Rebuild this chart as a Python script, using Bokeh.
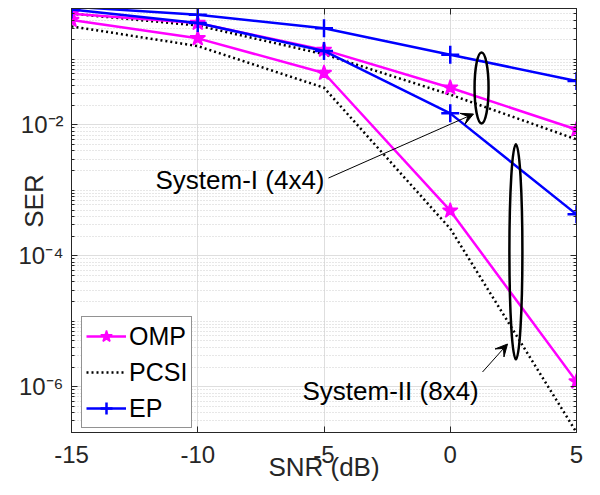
import numpy as np
from bokeh.plotting import figure
from bokeh.models import (Range1d, FixedTicker, LogAxis, LinearAxis, Label, Arrow,
                          VeeHead, Legend, LegendItem, CustomJSTickFormatter)
from bokeh.embed import file_html
from bokeh.resources import INLINE

# ---- data ----
snr = [-15, -10, -5, 0, 5]
omp_4x4 = [0.50, 0.36, 0.14, 0.037, 0.0085]
pcsi_4x4 = [0.50, 0.33, 0.12, 0.029, 0.0060]
ep_4x4 = [0.64, 0.48, 0.30, 0.118, 0.047]
omp_8x4 = [0.40, 0.21, 0.062, 4.9e-4, 1.2e-6]
pcsi_8x4 = [0.32, 0.16, 0.037, 2.6e-4, 2.0e-7]
ep_8x4 = [0.58, 0.36, 0.135, 0.015, 4.3e-4]

x_ticks = [-15, -10, -5, 0, 5]
x_tick_labels = ["-15", "-10", "-5", "0", "5"]
y_ticks = [1e-6, 1e-4, 1e-2]
y_tick_labels = ["10\u207b\u2076", "10\u207b\u2074", "10\u207b\u00b2"]

FONT = "Liberation Sans"
AX = "#262626"

y_lo, y_hi = 2e-7, 0.6
minor = [m * 10.0 ** k for k in range(-7, 0) for m in range(1, 10)]
minor = [v for v in minor if y_lo <= v <= y_hi and not any(abs(v - t) / t < 1e-9 for t in y_ticks)]

p = figure(frame_width=505, frame_height=424,
           x_range=Range1d(-15, 5), y_range=Range1d(y_lo, y_hi),
           y_axis_type="log", output_backend="svg", toolbar_location=None,
           min_border_left=71, min_border_right=16, min_border_top=8, min_border_bottom=58,
           background_fill_color="white", border_fill_color="white")
p.outline_line_color = AX
p.outline_line_width = 1

yt = FixedTicker(ticks=y_ticks, minor_ticks=minor)
xt = FixedTicker(ticks=x_ticks, minor_ticks=[])
p.xaxis.ticker = xt
p.yaxis.ticker = yt
p.yaxis.major_label_overrides = {t: s for t, s in zip(y_ticks, y_tick_labels)}
p.xaxis.major_label_overrides = {t: s for t, s in zip(x_ticks, x_tick_labels)}

def style_axis(ax):
    ax.axis_line_color = AX
    ax.major_tick_line_color = AX
    ax.minor_tick_line_color = AX
    ax.major_tick_in = 6
    ax.major_tick_out = 0
    ax.minor_tick_in = 3
    ax.minor_tick_out = 0

for ax in (p.xaxis[0], p.yaxis[0]):
    style_axis(ax)
    ax.major_label_text_font = FONT
    ax.major_label_text_font_size = "24px"
    ax.major_label_text_color = AX
    ax.axis_label_text_font = FONT
    ax.axis_label_text_font_size = "26px"
    ax.axis_label_text_font_style = "normal"
    ax.axis_label_text_color = AX
p.xaxis.major_label_standoff = 13
p.yaxis.major_label_standoff = 8

p.xaxis.axis_label = "SNR (dB)"
p.xaxis.axis_label_standoff = -14
# leading em/en spaces nudge the rotated label upward, as in the reference
p.yaxis.axis_label = "\u2003\u2002SER"
p.yaxis.axis_label_standoff = -34

# right and top box axes (ticks only, no labels)
blank = CustomJSTickFormatter(code="return '';")
ra = LogAxis(ticker=yt, formatter=blank)
ta = LinearAxis(ticker=xt, formatter=blank)
for ax in (ra, ta):
    style_axis(ax)
    ax.major_label_standoff = 0
p.add_layout(ra, "right")
p.add_layout(ta, "above")

# grids
p.xgrid.grid_line_color = "#dedede"
p.xgrid.grid_line_width = 1
p.ygrid.grid_line_color = "#dedede"
p.ygrid.grid_line_width = 1
p.ygrid.minor_grid_line_color = "#cfcfcf"
p.ygrid.minor_grid_line_dash = "1 2"
p.ygrid.minor_grid_line_width = 1

MAG = "#ff00ff"
BLUE = "#0000ff"

def series(y, color, dash, marker):
    ln = p.line(snr, y, line_color=color, line_width=2.5, line_dash=dash)
    sc = None
    if marker is not None:
        sc = p.scatter(snr, y, marker=marker, size=16 if marker == "star" else 18,
                       line_color=color, fill_color=color if marker == "star" else None,
                       line_width=2.5 if marker == "cross" else 1.5)
    return ln, sc

pcsi1 = series(pcsi_4x4, "black", "2 3", None)
pcsi2 = series(pcsi_8x4, "black", "2 3", None)
omp1 = series(omp_4x4, MAG, "solid", "star")
omp2 = series(omp_8x4, MAG, "solid", "star")
ep1 = series(ep_4x4, BLUE, "solid", "cross")
ep2 = series(ep_8x4, BLUE, "solid", "cross")

legend = Legend(items=[
    LegendItem(label="OMP", renderers=[omp1[0], omp1[1]]),
    LegendItem(label="PCSI", renderers=[pcsi1[0]]),
    LegendItem(label="EP", renderers=[ep1[0], ep1[1]]),
], location=(10, 4))
legend.label_text_font = FONT
legend.label_text_font_size = "25px"
legend.label_text_color = "black"
legend.glyph_width = 40
legend.glyph_height = 30
legend.label_standoff = 3
legend.padding = 4
legend.spacing = 6
legend.margin = 0
legend.border_line_color = AX
legend.border_line_width = 1
legend.background_fill_alpha = 1
p.add_layout(legend)

# ellipses marking the two systems (screen-sized)
p.ellipse(x=[1.24, 2.60], y=[0.0367, 1.15e-4], width=[14, 13], height=[71, 215],
          width_units="screen", height_units="screen",
          fill_color=None, line_color="black", line_width=2.5)

# annotations
p.add_layout(Label(x=84, y=252.5, x_units="screen", y_units="screen", text="System-I (4x4)",
                   text_font=FONT, text_font_size="26px", text_color="black",
                   text_baseline="middle", text_align="left"))
p.add_layout(Label(x=231, y=41.5, x_units="screen", y_units="screen", text="System-II (8x4)",
                   text_font=FONT, text_font_size="26px", text_color="black",
                   text_baseline="middle", text_align="left"))
p.add_layout(Arrow(x_start=257, y_start=254.5, x_end=402, y_end=318.5,
                   start_units="screen", end_units="screen",
                   line_color="black", line_width=1,
                   end=VeeHead(size=12, fill_color="black", line_color="black")))
p.add_layout(Arrow(x_start=411, y_start=60.5, x_end=436, y_end=88.5,
                   start_units="screen", end_units="screen",
                   line_color="black", line_width=1,
                   end=VeeHead(size=12, fill_color="black", line_color="black")))

open("out.html", "w").write(file_html(p, INLINE))
